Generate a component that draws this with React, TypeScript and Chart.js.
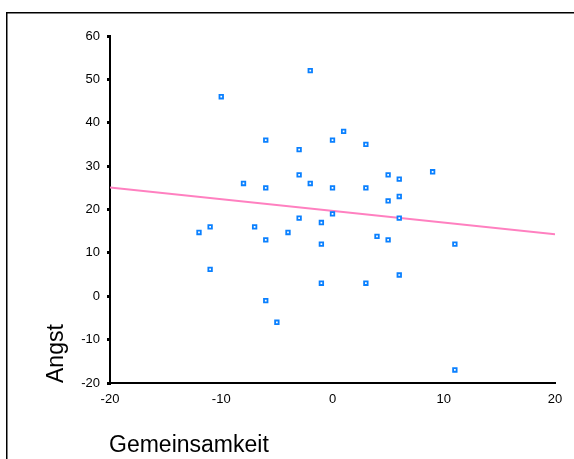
import React, { useEffect, useRef } from "react";
import { Chart, registerables } from "chart.js";

Chart.register(...registerables);

const gemeinsamkeit = [-2, -10, 1, -6, 0, 3, -3, 9, -3, 5, 6, -8, -2, -6, 0, 3, 6, 5, 0, 6, -3, -1, -11, -7, -12, -4, 4, -6, 5, -1, 11, -11, 6, -1, 3, -6, -5, 11];
const angst = [52, 46, 38, 36, 36, 35, 33.8, 28.7, 28, 28, 27, 26, 26, 25, 25, 25, 23, 22, 19, 18, 18, 17, 16, 16, 14.7, 14.7, 13.8, 13, 13, 12, 12, 6.2, 4.9, 3, 3, -1, -6, -17];
const fitX = [-20, 20];
const fitY = [25.1, 14.3];
const xTicks = { min: -20, max: 20, step: 10 };
const yTicks = { min: -20, max: 60, step: 10 };
const xTitle = "Gemeinsamkeit";
const yTitle = "Angst";

const FONT = '"Liberation Sans", Arial, sans-serif';

export default function App() {
  const ref = useRef<HTMLCanvasElement | null>(null);
  useEffect(() => {
    document.body.style.margin = "0";
    const canvas = ref.current!;
    const framePlugin = {
      id: "frameAndTitles",
      beforeDraw(chart: any) {
        const ctx = chart.ctx;
        ctx.save();
        ctx.fillStyle = "#fff";
        ctx.fillRect(0, 0, chart.width, chart.height);
        ctx.strokeStyle = "#000";
        ctx.lineWidth = 1.5;
        ctx.strokeRect(6.75, 12.75, 1000, 1000);
        ctx.restore();
      },
      afterDraw(chart: any) {
        const ctx = chart.ctx;
        ctx.save();
        ctx.fillStyle = "#000";
        ctx.font = `23px ${FONT}`;
        ctx.textBaseline = "alphabetic";
        ctx.textAlign = "left";
        ctx.fillText(xTitle, 109, 452);
        ctx.translate(63, 383);
        ctx.rotate(-Math.PI / 2);
        ctx.fillText(yTitle, 0, 0);
        ctx.restore();
      },
    };
    const chart = new Chart(canvas, {
      type: "scatter",
      data: {
        datasets: [
          {
            type: "scatter",
            data: gemeinsamkeit.map((x, i) => ({ x, y: angst[i] })),
            pointStyle: "rect",
            radius: 2.5,
            borderWidth: 1.8,
            borderColor: "#0a80ff",
            backgroundColor: "#ffffff",
            order: 0,
          },
          {
            type: "line",
            data: fitX.map((x, i) => ({ x, y: fitY[i] })),
            borderColor: "#ff80c0",
            borderWidth: 2,
            pointRadius: 0,
            fill: false,
            order: 1,
          } as any,
        ],
      },
      options: {
        responsive: false,
        animation: false,
        events: [],
        layout: { padding: { left: 0, top: 36, right: 19, bottom: 0 } },
        plugins: { legend: { display: false }, tooltip: { enabled: false } },
        scales: {
          x: {
            type: "linear",
            min: xTicks.min,
            max: xTicks.max,
            afterFit(scale: any) {
              scale.height = 76;
            },
            ticks: {
              stepSize: xTicks.step,
              padding: 9,
              color: "#000",
              font: { family: FONT, size: 13 },
              maxRotation: 0,
            },
            grid: { display: false, drawTicks: false, tickLength: 0 },
            border: { display: true, color: "#000", width: 2 },
          },
          y: {
            type: "linear",
            min: yTicks.min,
            max: yTicks.max,
            afterFit(scale: any) {
              scale.width = 110;
            },
            ticks: {
              stepSize: yTicks.step,
              padding: 7,
              color: "#000",
              font: { family: FONT, size: 13 },
            },
            grid: {
              display: true,
              drawOnChartArea: false,
              drawTicks: true,
              tickLength: 3,
              lineWidth: 3,
              color: "#000",
            },
            border: { display: true, color: "#000", width: 2 },
          },
        },
      },
      plugins: [framePlugin],
    });
    return () => chart.destroy();
  }, []);
  return (
    <div style={{ position: "fixed", left: 0, top: 0, width: 574, height: 459 }}>
      <canvas ref={ref} width={574} height={459} style={{ display: "block" }} />
    </div>
  );
}
